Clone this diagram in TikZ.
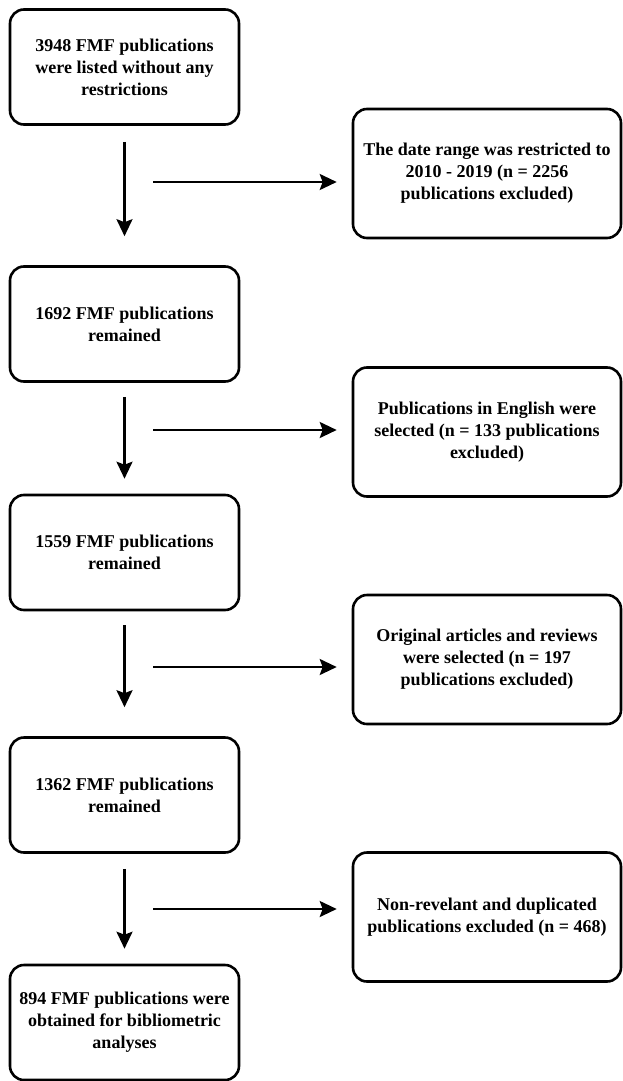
\documentclass[tikz,border=0pt]{standalone}
\usepackage{fontspec}
\setmainfont{Liberation Serif}
\usepackage{tikz}
\usetikzlibrary{arrows.meta}
\tikzset{
  leftbox/.style={draw, line width=2.6pt, rounded corners=14pt, align=center,
    minimum width=229pt, minimum height=115pt, inner sep=2pt,
    font=\fontsize{18}{22}\selectfont\bfseries},
  rightbox/.style={leftbox, minimum width=268pt, minimum height=129pt},
  arr/.style={line width=2.4pt, -{Stealth[length=17pt,width=16pt,inset=3pt]}}
}

\begin{document}
\begin{tikzpicture}[x=1pt,y=-1pt]
        \useasboundingbox (0,0) rectangle (623,1081);
        % left column
        \node[leftbox] (b1) at (124.5,67) {3948 FMF publications\\were listed without any\\restrictions};
        \node[leftbox] (b2) at (124.5,324) {1692 FMF publications\\remained};
        \node[leftbox] (b3) at (124.5,552.5) {1559 FMF publications\\remained};
        \node[leftbox] (b4) at (124.5,795) {1362 FMF publications\\remained};
        \node[leftbox] (b5) at (124.5,1022.5) {894 FMF publications were\\obtained for bibliometric\\analyses};
        % right column
        \node[rightbox] (r1) at (487,173.5) {The date range was restricted to\\2010 - 2019 (n = 2256\\publications excluded)};
        \node[rightbox] (r2) at (487,432) {Publications in English were\\selected (n = 133 publications\\excluded)};
        \node[rightbox] (r3) at (487,659.5) {Original articles and reviews\\were selected (n = 197\\publications excluded)};
        \node[rightbox] (r4) at (487,917) {Non-revelant and duplicated\\publications excluded (n = 468)};
        % arrows down
        \draw[arr] ([yshift=-16pt]b1.south) -- ([yshift=29pt]b2.north);
        \draw[arr] ([yshift=-14pt]b2.south) -- ([yshift=15pt]b3.north);
        \draw[arr] ([yshift=-14pt]b3.south) -- ([yshift=29pt]b4.north);
        \draw[arr] ([yshift=-15pt]b4.south) -- ([yshift=15pt]b5.north);
        % arrows right
        \coordinate (h1) at (153,182);
        \coordinate (h2) at (153,430);
        \coordinate (h3) at (153,667);
        \coordinate (h4) at (153,909);
        \draw[arr] (h1) -- ([xshift=-15pt]r1.west |- h1);
        \draw[arr] (h2) -- ([xshift=-15pt]r2.west |- h2);
        \draw[arr] (h3) -- ([xshift=-15pt]r3.west |- h3);
        \draw[arr] (h4) -- ([xshift=-15pt]r4.west |- h4);
\end{tikzpicture}
\end{document}
